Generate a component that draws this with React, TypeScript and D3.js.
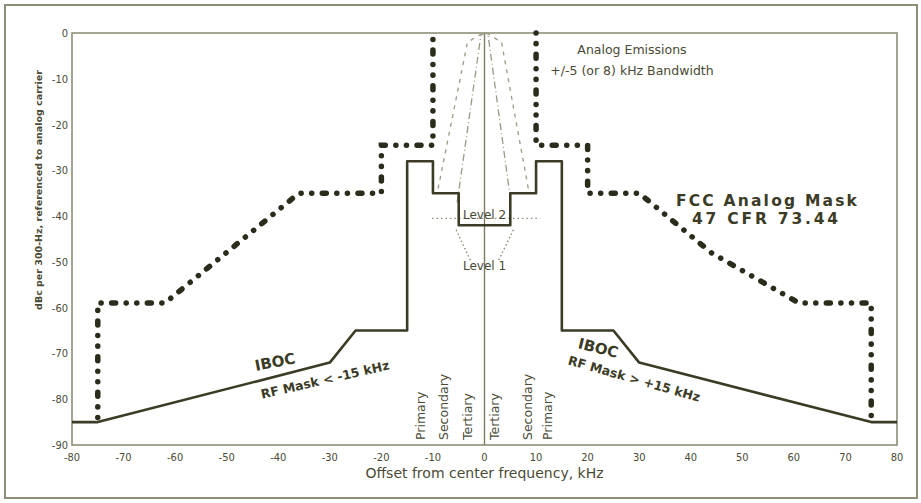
import * as d3 from 'd3';

const W = 921;
const H = 503;

// axis ticks
const xTicks = [-80, -70, -60, -50, -40, -30, -20, -10, 0, 10, 20, 30, 40, 50, 60, 70, 80];
const yTicks = [0, -10, -20, -30, -40, -50, -60, -70, -80, -90];

// IBOC RF mask (kHz, dBc)
const ibocMask: [number, number][] = [
  [-80, -85], [-75, -85], [-30, -72], [-25, -65], [-15, -65], [-15, -28], [-10, -28],
  [-10, -35], [-5, -35], [-5, -42], [5, -42], [5, -35], [10, -35], [10, -28],
  [15, -28], [15, -65], [25, -65], [30, -72], [75, -85], [80, -85],
];

// FCC analog mask, 47 CFR 73.44
const fccLeft: [number, number][] = [
  [-75, -84], [-75, -59], [-62, -59], [-36, -35], [-20, -35], [-20, -24.5], [-10, -24.5], [-10, 0],
];
const fccRight: [number, number][] = [
  [10, 0], [10, -24.5], [20, -24.5], [20, -35], [30, -35], [44, -48], [61, -59], [75, -59], [75, -84],
];

// analog emissions, +/-8 and +/-5 kHz
const analogWide: [number, number][] = [[-9, -34], [-3.3, -2], [-0.3, 0], [0.3, 0], [3.3, -2], [8.5, -34]];
const analogNarrow: [number, number][] = [[-5.3, -37], [-0.7, -0.5], [0, 0], [0.7, -0.5], [5, -36]];
const level1Left: [number, number][] = [[-5.5, -43], [-2.6, -50]];
const level1Right: [number, number][] = [[5.6, -43], [2.6, -50]];
const level2: [number, number][] = [[-10.2, -40.5], [10.8, -40.5]];

const bandLeft = ['Primary', 'Secondary', 'Tertiary'];
const bandLeftAt = [-12.5, -8, -3.4];
const bandRight = ['Tertiary', 'Secondary', 'Primary'];
const bandRightAt = [1.8, 8.2, 12.1];

const x = d3.scaleLinear([-80, 80], [72, 897]);
const y = d3.scaleLinear([0, -90], [33, 445]);
const line = d3.line<[number, number]>().x(d => x(d[0])).y(d => y(d[1]));

const ink = '#3b3b26';
const txt = '#4a4a35';
const frame = '#8e8e76';
const font = '"DejaVu Sans", sans-serif';
const cond = '"DejaVu Sans Condensed", "DejaVu Sans", sans-serif';

export default function App() {
  const dots = {
    fill: 'none', stroke: '#2c2c1c', strokeWidth: 5.5, strokeLinecap: 'round' as const,
    strokeDasharray: '0.1 10.5 0.1 10.5 4 10.5',
  };
  return (
    <svg width={W} height={H} style={{ position: 'absolute', left: 0, top: 0, background: '#fff' }}>
      <rect x={5} y={5} width={912} height={493} fill="#fff" stroke={frame} strokeWidth={2} />
      <rect x={x(-80)} y={y(0)} width={x(80) - x(-80)} height={y(-90) - y(0)} fill="none" stroke={frame} strokeWidth={1.6} />
      <line x1={x(0)} x2={x(0)} y1={y(0)} y2={y(-90)} stroke="#7d7d66" strokeWidth={1.4} />

      {yTicks.map(t => (
        <text key={t} x={68} y={y(t) + 4} textAnchor="end" fontSize={11} fontFamily={cond} fill={txt}>{t}</text>
      ))}
      {xTicks.map(t => (
        <text key={t} x={x(t)} y={461} textAnchor="middle" fontSize={11} fontFamily={cond} fill={txt}>{t}</text>
      ))}
      <text x={x(0)} y={478} textAnchor="middle" fontSize={14} fontFamily={font} fill={txt}>Offset from center frequency, kHz</text>
      <text transform="translate(42,190) rotate(-90)" textAnchor="middle" fontSize={9.5} fontWeight="bold" fontFamily={font} fill={txt}>
        dBc per 300-Hz, referenced to analog carrier
      </text>

      {/* analog emissions */}
      <path d={line(analogWide) ?? ''} fill="none" stroke="#9a9a86" strokeWidth={1.3} strokeDasharray="4 5" />
      <path d={line(analogNarrow) ?? ''} fill="none" stroke="#9a9a86" strokeWidth={1.3} strokeDasharray="7 3 1 3" />
      <path d={line(level1Left) ?? ''} fill="none" stroke="#8a8a74" strokeWidth={1.4} strokeDasharray="1.5 2.5" />
      <path d={line(level1Right) ?? ''} fill="none" stroke="#8a8a74" strokeWidth={1.4} strokeDasharray="1.5 2.5" />
      <path d={line(level2) ?? ''} fill="none" stroke="#8a8a74" strokeWidth={1.4} strokeDasharray="1.5 3" />

      {/* IBOC mask */}
      <path d={line(ibocMask) ?? ''} fill="none" stroke={ink} strokeWidth={2.6} strokeLinejoin="round" />

      {/* FCC mask */}
      <path d={line(fccLeft) ?? ''} {...dots} />
      <path d={line(fccRight) ?? ''} {...dots} />

      <text x={x(0)} y={219} textAnchor="middle" fontSize={12} fontFamily={font} fill={txt}>Level 2</text>
      <text x={x(0)} y={270} textAnchor="middle" fontSize={12} fontFamily={font} fill={txt}>Level 1</text>

      <text x={632} y={54} textAnchor="middle" fontSize={12.5} fontFamily={font} fill={txt}>Analog Emissions</text>
      <text x={632} y={75} textAnchor="middle" fontSize={12.5} fontFamily={font} fill={txt}>+/-5 (or 8) kHz Bandwidth</text>

      <text x={676} y={206} fontSize={15.5} fontWeight="bold" letterSpacing={2.2} fontFamily={font} fill={ink}>FCC Analog Mask</text>
      <text x={692} y={224} fontSize={15.5} fontWeight="bold" letterSpacing={2.8} fontFamily={font} fill={ink}>47 CFR 73.44</text>

      <text transform="translate(276,367) rotate(-11)" textAnchor="middle" fontSize={15} fontWeight="bold" fontFamily={font} fill={ink}>IBOC</text>
      <text transform="translate(326,384) rotate(-13)" textAnchor="middle" fontSize={12.5} fontWeight="bold" fontFamily={font} fill={ink}>RF Mask &lt; -15 kHz</text>
      <text transform="translate(597,353) rotate(14)" textAnchor="middle" fontSize={15} fontWeight="bold" fontFamily={font} fill={ink}>IBOC</text>
      <text transform="translate(633,383) rotate(16)" textAnchor="middle" fontSize={12.5} fontWeight="bold" fontFamily={font} fill={ink}>RF Mask &gt; +15 kHz</text>

      {bandLeft.map((b, i) => (
        <text key={'l' + b} transform={`translate(${x(bandLeftAt[i]) + 5},440) rotate(-90)`} fontSize={12.5} fontFamily={font} fill={txt}>{b}</text>
      ))}
      {bandRight.map((b, i) => (
        <text key={'r' + b} transform={`translate(${x(bandRightAt[i]) + 5},440) rotate(-90)`} fontSize={12.5} fontFamily={font} fill={txt}>{b}</text>
      ))}
    </svg>
  );
}
